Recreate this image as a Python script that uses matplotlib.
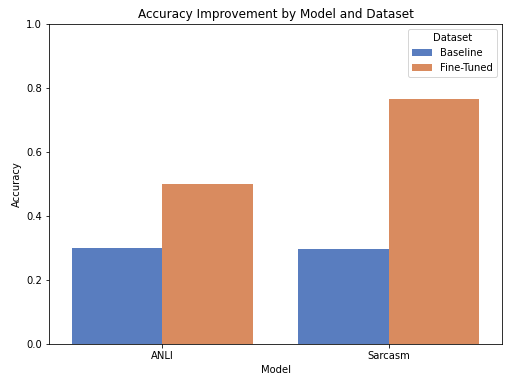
import numpy as np
import pandas as pd
import seaborn as sns
import matplotlib
matplotlib.use('Agg')
import matplotlib.pyplot as plt

models = ['ANLI', 'Sarcasm']
baseline = [0.300, 0.297]
fine_tuned = [0.500, 0.765]

df = pd.DataFrame({
    'Model': models * 2,
    'Dataset': ['Baseline'] * 2 + ['Fine-Tuned'] * 2,
    'Accuracy': baseline + fine_tuned,
})

fig = plt.figure(figsize=(526 / 72, 384 / 72), dpi=72)
ax = fig.add_axes([49 / 526, 40 / 384, 453 / 526, 320 / 384])
sns.barplot(data=df, x='Model', y='Accuracy', hue='Dataset',
            palette='muted', ax=ax)
ax.set_ylim(0, 1.0)
ax.set_xlim(-0.5, 1.5)
ax.set_title('Accuracy Improvement by Model and Dataset')
ax.legend(title='Dataset', loc='upper right')

fig.savefig('out.png', dpi=72)
